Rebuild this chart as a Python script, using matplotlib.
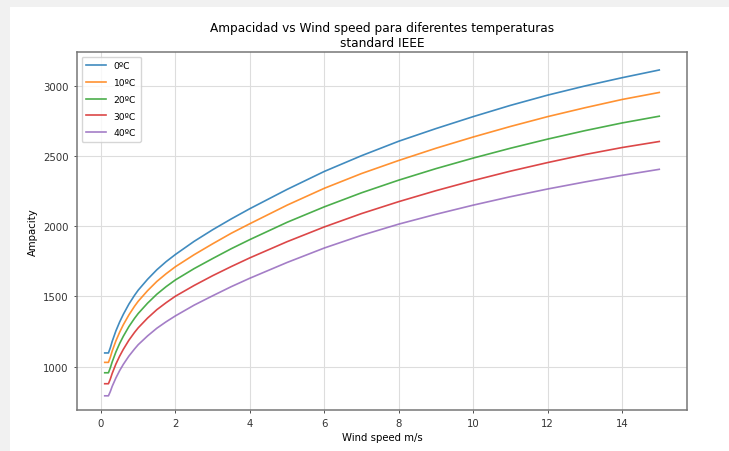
import numpy as np
import matplotlib.pyplot as plt
from matplotlib.patches import Rectangle


# ------------------------------------------------------------
# Data (wind speed in m/s, ampacity in A)
# ------------------------------------------------------------

wind_speed = [0.1, 0.2, 0.25, 0.3, 0.4, 0.5, 0.6, 0.75, 0.9, 1, 1.25, 1.5, 1.75,
              2, 2.5, 3, 3.5, 4, 5, 6, 7, 8, 9, 10, 11, 12, 13, 14, 15]

amp_0 = [1098, 1098, 1135, 1180, 1255, 1318, 1373, 1446, 1508, 1545, 1622, 1690, 1748,
         1799, 1892, 1975, 2052, 2125, 2262, 2390, 2502, 2605, 2695, 2780, 2860, 2933,
         2998, 3057, 3112]
amp_10 = [1031, 1031, 1067, 1111, 1184, 1245, 1299, 1369, 1430, 1466, 1541, 1607, 1662,
          1712, 1797, 1875, 1950, 2018, 2150, 2270, 2375, 2468, 2555, 2635, 2710, 2780,
          2843, 2902, 2952]
amp_20 = [957, 957, 992, 1034, 1105, 1165, 1217, 1286, 1344, 1379, 1452, 1516, 1570,
          1618, 1698, 1770, 1840, 1905, 2028, 2138, 2238, 2328, 2410, 2485, 2555, 2620,
          2680, 2735, 2783]
amp_30 = [879, 879, 912, 952, 1019, 1075, 1124, 1189, 1244, 1277, 1346, 1406, 1456,
          1502, 1578, 1648, 1713, 1775, 1890, 1995, 2090, 2175, 2253, 2325, 2392, 2453,
          2510, 2560, 2603]
amp_40 = [793, 793, 823, 860, 920, 972, 1017, 1076, 1126, 1157, 1219, 1274, 1320,
          1362, 1438, 1505, 1570, 1630, 1742, 1845, 1935, 2015, 2085, 2150, 2210, 2265,
          2315, 2362, 2405]

series = [amp_0, amp_10, amp_20, amp_30, amp_40]
labels = ["0ºC", "10ºC", "20ºC", "30ºC", "40ºC"]


# ------------------------------------------------------------
# Plot
# ------------------------------------------------------------

fig = plt.figure(figsize=(7.29, 4.52), dpi=100, facecolor="#f1f1f1")

# white figure area inside the grey screenshot frame
fig.patches.append(Rectangle((10 / 729, 0), 1, 1 - 8 / 452,
                             transform=fig.transFigure, facecolor="white",
                             edgecolor="none", zorder=-5))

ax = fig.add_axes([77 / 729, 1 - 411 / 452, 610 / 729, 358 / 452])

for y, lab in zip(series, labels):
    ax.plot(wind_speed, y, label=lab, linewidth=1.2, alpha=0.85)

ax.set_title("Ampacidad vs Wind speed para diferentes temperaturas\nstandard IEEE",
             fontsize=8.7, pad=4)
ax.set_xlabel("Wind speed m/s", fontsize=7.3, labelpad=3)
ax.set_ylabel("Ampacity", fontsize=7.3, labelpad=4)
ax.tick_params(labelsize=7.3, length=2.5, width=0.6, colors="#333333")
ax.set_xticks(range(0, 15, 2))
ax.set_ylim(692, 3240)
ax.grid(True, color="#dddddd", linewidth=0.8)
for s in ax.spines.values():
    s.set_color("#777777")
    s.set_linewidth(1.1)

ax.legend(loc="upper left", fontsize=6.6, handlelength=2.2, borderpad=0.5,
          labelspacing=0.85)

plt.savefig("out.png", dpi=100, facecolor=fig.get_facecolor())
